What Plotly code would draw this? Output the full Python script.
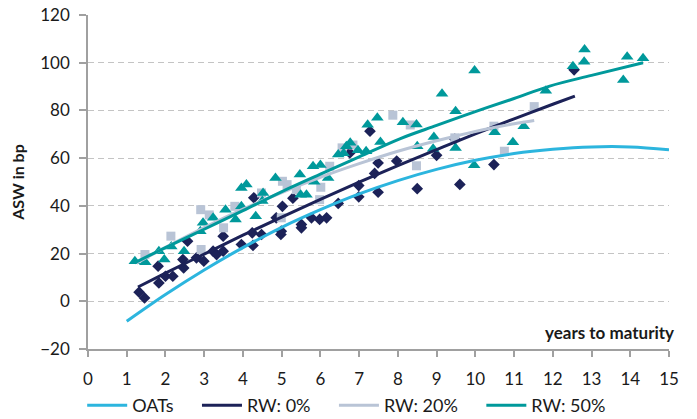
import plotly.graph_objects as go

# ---------------- data ----------------
rw0_x = [1.32, 1.46, 1.81, 1.83, 2.0, 2.19, 2.45, 2.47, 2.57, 2.80, 2.99, 3.23, 3.32, 3.49, 3.49,
         3.96, 4.26, 4.24, 4.48, 4.86, 5.02, 4.98, 4.99, 5.51, 5.51, 5.77, 5.98, 6.16, 6.46, 4.28,
         5.29, 6.76, 6.99, 6.99, 7.28, 7.49, 7.97, 7.40, 7.49, 8.50, 9.00, 9.47, 9.60, 10.48, 12.55]
rw0_y = [3.8, 1.4, 14.7, 7.7, 10.5, 10.5, 17.5, 14.0, 25.2, 18.2, 16.8, 21.0, 19.6, 27.3, 21.0,
         23.8, 23.4, 28.7, 28.0, 35.0, 39.8, 28.0, 29.4, 30.8, 32.2, 35.0, 34.3, 35.0, 41.0, 43.4,
         43.2, 62.2, 48.5, 43.8, 71.3, 58.0, 58.8, 53.6, 45.7, 47.2, 61.2, 68.0, 49.0, 57.3, 97.0]

rw20_x = [1.47, 2.14, 2.91, 3.13, 2.92, 3.50, 3.79, 4.48, 5.02, 5.14, 4.99, 5.98, 6.01, 6.24,
          6.56, 6.84, 7.87, 8.32, 8.48, 9.47, 10.48, 10.75, 11.52, 5.38]
rw20_y = [19.6, 27.3, 38.4, 36.2, 21.7, 30.8, 39.8, 45.4, 50.3, 48.9, 35.0, 42.6, 47.8, 56.6,
          64.3, 65.5, 78.0, 73.9, 56.8, 68.5, 73.4, 62.9, 81.6, 46.8]

rw50_x = [1.21, 1.48, 1.83, 1.97, 2.15, 2.48, 2.97, 2.90, 3.23, 3.55, 3.81, 3.96, 3.96, 4.09,
          4.33, 4.52, 4.50, 4.84, 5.47, 5.49, 5.64, 5.81, 6.00, 5.84, 6.20, 6.46, 6.67, 6.60,
          6.77, 6.97, 7.18, 7.22, 7.47, 7.55, 8.13, 8.48, 8.50, 8.91, 8.93, 9.14, 9.49, 9.49,
          9.97, 9.98, 10.50, 10.97, 11.25, 11.82, 12.52, 12.82, 12.81, 13.82, 13.92, 14.33]
rw50_y = [16.8, 16.4, 21.0, 17.5, 23.0, 21.0, 32.9, 29.4, 35.0, 38.4, 34.3, 39.8, 47.5, 48.9,
          35.6, 45.4, 42.0, 51.7, 53.1, 44.7, 44.7, 56.6, 57.1, 50.1, 51.7, 61.5, 65.0, 62.0,
          66.4, 63.3, 62.9, 74.0, 76.9, 66.8, 75.0, 74.1, 65.0, 63.9, 68.9, 87.0, 79.7, 64.2,
          57.0, 96.7, 70.9, 66.7, 73.4, 88.3, 98.5, 105.5, 100.4, 92.8, 102.5, 101.9]

# trend lines
oat_fit_x = [1, 2, 3, 4, 5, 6, 7, 8, 9, 10, 11, 12, 13, 14, 15]
oat_fit_y = [-8.4, 2.8, 13.1, 22.5, 31.0, 38.4, 45.0, 50.6, 55.3, 59.1, 61.9, 63.7, 64.7, 64.7, 63.5]

rw0_fit_x = [1.29, 2, 3, 4, 5, 6, 7, 8, 9, 10, 11, 12, 12.57]
rw0_fit_y = [6.0, 11.8, 19.8, 27.7, 35.3, 42.7, 49.9, 56.9, 63.6, 70.2, 76.5, 82.6, 86.0]

rw20_fit_x = [1.25, 2, 3, 4, 5, 6, 7, 8, 9, 10, 11, 11.52]
rw20_fit_y = [16.0, 22.6, 30.9, 38.6, 45.6, 52.0, 57.7, 62.9, 67.3, 71.2, 74.4, 75.8]

rw50_fit_x = [1.2, 2, 3, 4, 5.21, 6, 7, 8.05, 9, 10, 11, 11.92, 13, 14.33]
rw50_fit_y = [16.1, 22.5, 30.2, 38.0, 47.5, 53.3, 60.5, 68.1, 73.7, 79.5, 85.0, 90.2, 94.7, 100.0]

series_names = ["OATs", "RW: 0%", "RW: 20%", "RW: 50%"]
x_ticks = list(range(0, 16))
y_ticks = [-20, 0, 20, 40, 60, 80, 100, 120]

C_OAT = "#2cb5de"
C_RW0 = "#1c2258"
C_RW20 = "#b9c4d6"
C_RW50 = "#00999b"

FONT = "Lato, 'Open Sans', sans-serif"
PAD = "\u00a0" * 4  # spacing between legend entries

fig = go.Figure()

# markers
fig.add_trace(go.Scatter(x=rw0_x, y=rw0_y, mode="markers", showlegend=False,
                         marker=dict(symbol="diamond", size=9, color=C_RW0, line=dict(width=0))))
fig.add_trace(go.Scatter(x=rw20_x, y=rw20_y, mode="markers", showlegend=False,
                         marker=dict(symbol="square", size=9, color=C_RW20, line=dict(width=0))))
fig.add_trace(go.Scatter(x=rw50_x, y=rw50_y, mode="markers", showlegend=False,
                         marker=dict(symbol="triangle-up", size=11, color=C_RW50, line=dict(width=0))))

# fitted lines
fits = [(oat_fit_x, oat_fit_y, C_OAT), (rw0_fit_x, rw0_fit_y, C_RW0),
        (rw20_fit_x, rw20_fit_y, C_RW20), (rw50_fit_x, rw50_fit_y, C_RW50)]
for name, (fx, fy, col) in zip(series_names, fits):
    fig.add_trace(go.Scatter(x=fx, y=fy, mode="lines", name=name + PAD,
                             line=dict(color=col, width=3, shape="spline")))

fig.update_layout(
    width=697, height=419,
    margin=dict(l=88, r=28, t=15, b=70, autoexpand=False),
    paper_bgcolor="white", plot_bgcolor="white",
    font=dict(family=FONT, size=17, color="#1a1a1a"),
    legend=dict(orientation="h", x=-0.01, xanchor="left", y=-0.114, yanchor="top",
                font=dict(size=18, color="#1a1a1a"), itemwidth=40,
                traceorder="normal"),
    annotations=[dict(text="<b>years to maturity</b>", xref="paper", yref="y",
                      x=1, y=-20, xanchor="right", yanchor="bottom",
                      xshift=7, yshift=4, showarrow=False,
                      font=dict(size=17, color="#1a1a1a"))],
)

fig.update_xaxes(range=[0, 15], tickvals=x_ticks, showgrid=False, zeroline=False,
                 showline=True, linecolor="#a0a0a0", linewidth=1.5, automargin=False,
                 ticks="outside", ticklen=6, tickcolor="#a0a0a0", tickwidth=1.5,
                 ticklabelstandoff=8, tickfont=dict(size=17))
fig.update_yaxes(range=[-20, 120], tickvals=y_ticks, showgrid=True, gridcolor="#c4c4c4",
                 griddash="6px,4px", gridwidth=1, zeroline=False, automargin=False,
                 showline=True, linecolor="#a0a0a0", linewidth=1.5,
                 ticks="outside", ticklen=7, tickcolor="#a0a0a0", tickwidth=1.5,
                 ticklabelstandoff=6, tickfont=dict(size=17),
                 title=dict(text="<b>ASW in bp</b>", font=dict(size=16), standoff=12))

fig.write_html("out.html", config={"displayModeBar": False},
               post_script="document.body.style.margin='0px';")
